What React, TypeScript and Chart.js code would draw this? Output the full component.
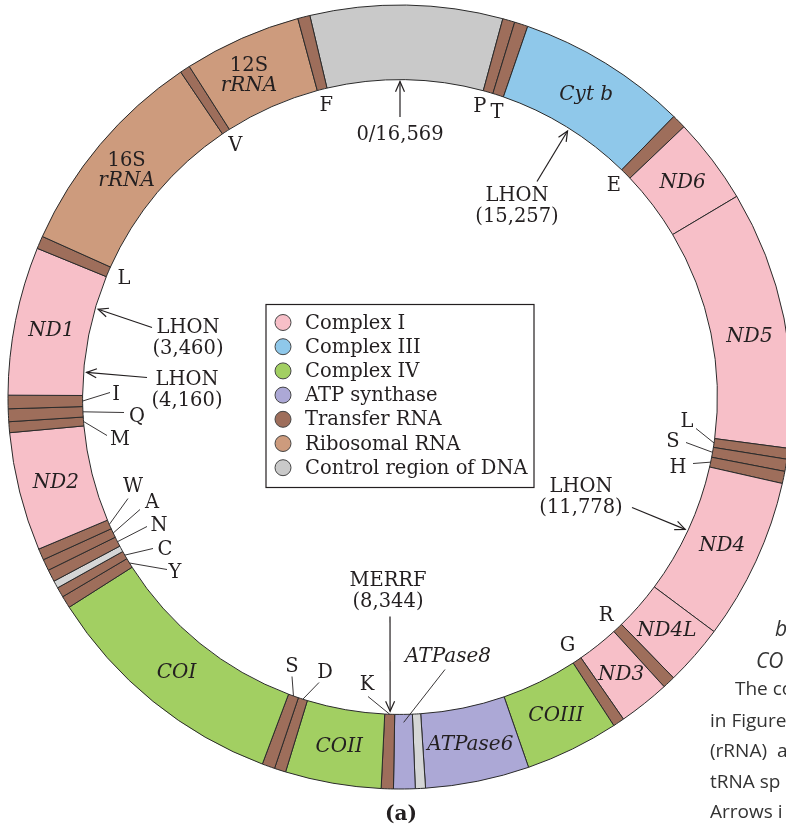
import React, { useEffect, useRef } from 'react';
import { Chart, registerables } from 'chart.js';

Chart.register(...registerables);

// ---------------- DATA ----------------
// Human mitochondrial genome map (16,569 bp), drawn clockwise from the
// start of the control region (segment lengths in bp, as read from the map).
const GENOME_LABEL = '0/16,569';
const ROTATION_DEG = -13.3; // where the control region begins (left of 0)

const segmentNames = [
  'Control region', 'P', 'T', 'Cyt b', 'E', 'ND6', 'ND5', 'L', 'S', 'H',
  'ND4', 'ND4L', 'R', 'ND3', 'G', 'COIII', 'ATPase6', 'overlap', 'ATPase8', 'K',
  'COII', 'D', 'S', 'COI', 'Y', 'C', 'OL', 'N', 'A', 'W',
  'ND2', 'M', 'Q', 'I', 'ND1', 'L', '16S rRNA', 'V', '12S rRNA', 'F',
];
const segmentLengths = [
  1312, 83, 92, 1164, 97, 589, 1763, 74, 83, 83,
  1105, 414, 87, 350, 78, 640, 709, 69, 147, 83,
  654, 78, 87, 1703, 83, 69, 51, 83, 78, 78,
  810, 74, 87, 92, 1013, 87, 1464, 69, 801, 83,
];
// 0 Complex I, 1 Complex III, 2 Complex IV, 3 ATP synthase, 4 tRNA, 5 rRNA, 6 control, 7 non-coding
const segmentGroups = [
  6, 4, 4, 1, 4, 0, 0, 4, 4, 4,
  0, 0, 4, 0, 4, 2, 3, 7, 3, 4,
  2, 4, 4, 2, 4, 4, 7, 4, 4, 4,
  0, 4, 4, 4, 0, 4, 5, 4, 5, 4,
];
const groupNames = [
  'Complex I', 'Complex III', 'Complex IV', 'ATP synthase',
  'Transfer RNA', 'Ribosomal RNA', 'Control region of DNA',
];
const groupColors = [
  '#f7bfc8', '#8fc8ea', '#a2cf62', '#aca8d6', '#9e6e5b', '#cd9b7d', '#c9c9c9', '#d5d6d6',
];

// gene names written inside the ring
const ringLabelSegs = [3, 5, 6, 10, 11, 13, 15, 16, 20, 23, 30, 34, 36, 38];
const ringLabelLines: [string, boolean][][] = [
  [['Cyt b', true]], [['ND6', true]], [['ND5', true]], [['ND4', true]], [['ND4L', true]],
  [['ND3', true]], [['COIII', true]], [['ATPase6', true]], [['COII', true]], [['COI', true]],
  [['ND2', true]], [['ND1', true]], [['16S', false], ['rRNA', true]], [['12S', false], ['rRNA', true]],
];
const ringLabelNudge = [0, 0, 1.8, 0, 0, 0, 0, 0, 0, 0, 0, -0.6, -0.5, -1.4];

// tRNA letters placed just inside the ring at the band centre
const letterSegs = [39, 37, 35, 1, 2, 4, 14, 12];
const letterTexts = ['F', 'V', 'L', 'P', 'T', 'E', 'G', 'R'];
const letterNudge = [0, 0, 0, -0.7, 0.8, 0, 0, 0];

// tRNA letters with leader lines: text offset from centre (px)
const calloutSegs = [33, 32, 31, 29, 28, 27, 25, 24, 22, 21, 19, 7, 8, 9];
const calloutTexts = ['I', 'Q', 'M', 'W', 'A', 'N', 'C', 'Y', 'S', 'D', 'K', 'L', 'S', 'H'];
const calloutTextDX = [-284, -263, -280, -267, -248, -241, -235, -225, -108, -75, -33, 287, 273, 278];
const calloutTextDY = [-2.5, 19.5, 42.5, 89.5, 105.5, 128.5, 152.5, 175.5, 269.5, 275.5, 287.5, 24.5, 44.5, 70.5];
const calloutEndDX = [-290, -276, -293, -272, -260, -253, -247, -233, -108, -81, -32, 296, 286, 293];
const calloutEndDY = [-4.5, 15.5, 38.5, 101.5, 112.5, 129.5, 151.5, 172.5, 279.5, 285.5, 299.5, 31.5, 45.5, 66.5];

// disease mutations
const mutationNames = ['LHON', 'LHON', 'LHON', 'LHON', 'MERRF'];
const mutationPositions = ['(3,460)', '(4,160)', '(11,778)', '(15,257)', '(8,344)'];
const mutationMapAngle = [286.2, 274.5, 114.9, 32.2, 181.8];
const mutationTextDX = [-212, -213, 181, 117, -12];
const mutationTextDY = [-59, -6.5, 100, -190.5, 194.5];
const mutationTailDX = [-248, -253, 232, 137, -10];
const mutationTailDY = [-69.5, -19.5, 110.5, -215.5, 219.5];

const SERIF = '"DejaVu Serif", "Liberation Serif", serif';
const SANS = '"Open Sans", "Noto Sans", sans-serif';
const INK = '#231f20';

// ---------------- PLUGIN ----------------
const mapAnnotations = {
  id: 'mapAnnotations',
  afterDraw(chart: any) {
    const ctx: CanvasRenderingContext2D = chart.ctx;
    const arcs: any[] = chart.getDatasetMeta(0).data;
    if (!arcs.length) return;
    const cx = arcs[0].x;
    const cy = arcs[0].y;
    const rIn = arcs[0].innerRadius;
    const rOut = arcs[0].outerRadius;
    const pt = (deg: number, r: number): [number, number] => {
      const t = (deg * Math.PI) / 180;
      return [cx + r * Math.sin(t), cy - r * Math.cos(t)];
    };
    const mid = (i: number) => ((arcs[i].startAngle + arcs[i].endAngle) / 2) * 180 / Math.PI + 90;
    const font = (italic: boolean, size = 19.5, bold = false) =>
      `${italic ? 'italic ' : ''}${bold ? 'bold ' : ''}${size}px ${SERIF}`;
    const line = (x1: number, y1: number, x2: number, y2: number, w = 1) => {
      ctx.beginPath();
      ctx.moveTo(x1, y1);
      ctx.lineTo(x2, y2);
      ctx.lineWidth = w;
      ctx.stroke();
    };
    const arrow = (x1: number, y1: number, x2: number, y2: number) => {
      line(x1, y1, x2, y2, 1.2);
      const a = Math.atan2(y2 - y1, x2 - x1);
      const L = 11;
      const s = 0.42;
      ctx.beginPath();
      ctx.moveTo(x2 - L * Math.cos(a - s), y2 - L * Math.sin(a - s));
      ctx.lineTo(x2, y2);
      ctx.lineTo(x2 - L * Math.cos(a + s), y2 - L * Math.sin(a + s));
      ctx.stroke();
    };

    ctx.save();
    ctx.fillStyle = INK;
    ctx.strokeStyle = INK;
    ctx.textAlign = 'center';
    ctx.textBaseline = 'middle';

    // gene names inside the ring
    const rMid = (rIn + rOut) / 2;
    ringLabelSegs.forEach((seg, k) => {
      const [x, y] = pt(mid(seg) + ringLabelNudge[k], rMid);
      const lines = ringLabelLines[k];
      lines.forEach(([txt, it], j) => {
        ctx.font = font(it, it ? 20 : 19.5);
        ctx.fillText(txt, x, y + (j - (lines.length - 1) / 2) * 20);
      });
    });

    // tRNA letters
    ctx.font = font(false);
    letterSegs.forEach((seg, k) => {
      const [x, y] = pt(mid(seg) + letterNudge[k], rIn - 17);
      ctx.fillText(letterTexts[k], x, y);
    });

    // tRNA letters with leader lines
    calloutSegs.forEach((seg, k) => {
      const [x0, y0] = pt(mid(seg), rIn);
      line(x0, y0, cx + calloutEndDX[k], cy + calloutEndDY[k], 0.9);
      ctx.fillText(calloutTexts[k], cx + calloutTextDX[k], cy + calloutTextDY[k]);
    });

    // ATPase8 callout
    {
      const [x0, y0] = pt(mid(18), rIn + 8);
      ctx.font = font(true, 20);
      ctx.fillText('ATPase8', cx + 48, cy + 259.5);
      line(cx + 45, cy + 272.5, x0, y0, 0.9);
    }

    // origin marker
    ctx.font = font(false);
    ctx.fillText(GENOME_LABEL, cx, cy - 262.5);
    {
      const [hx, hy] = pt(0, rIn - 2);
      arrow(cx, cy - 280, hx, hy);
    }

    // mutations
    mutationNames.forEach((nm, k) => {
      const tx = cx + mutationTextDX[k];
      const ty = cy + mutationTextDY[k];
      ctx.fillText(nm, tx, ty - 10.5);
      ctx.fillText(mutationPositions[k], tx, ty + 10.5);
      const [hx, hy] = pt(mutationMapAngle[k], rIn - 3);
      arrow(cx + mutationTailDX[k], cy + mutationTailDY[k], hx, hy);
    });

    // legend box
    const lx = cx - 134;
    const ly = cy - 92.5;
    ctx.lineWidth = 1.2;
    ctx.strokeRect(lx, ly, 268, 183);
    ctx.textAlign = 'left';
    groupNames.forEach((g, k) => {
      const yy = ly + 18 + k * 24.2;
      ctx.beginPath();
      ctx.arc(lx + 17, yy, 8, 0, Math.PI * 2);
      ctx.fillStyle = groupColors[k];
      ctx.fill();
      ctx.lineWidth = 1;
      ctx.strokeStyle = '#444';
      ctx.stroke();
      ctx.fillStyle = INK;
      ctx.font = font(false);
      ctx.fillText(g, lx + 39, yy + 1);
    });

    // panel label
    ctx.textAlign = 'center';
    ctx.font = font(false, 20, true);
    ctx.fillText('(a)', cx + 1, cy + 417.5);

    // neighbouring page text (cropped at the right edge)
    ctx.textAlign = 'left';
    ctx.fillStyle = '#333';
    ctx.font = `italic 21px ${SANS}`;
    ctx.fillText('b', 775, 630);
    ctx.fillText('CO', 756, 662);
    ctx.font = `19px ${SANS}`;
    ctx.fillText('The co', 735, 690);
    ctx.fillText('in Figure', 710, 722);
    ctx.fillText('(rRNA)  a', 710, 752);
    ctx.fillText('tRNA sp', 710, 783);
    ctx.fillText('Arrows i', 710, 813);
    ctx.restore();
  },
};

// ---------------- COMPONENT ----------------
export default function App() {
  const ref = useRef<HTMLCanvasElement>(null);
  useEffect(() => {
    const canvas = ref.current;
    if (!canvas) return;
    const chart = new Chart(canvas, {
      type: 'doughnut',
      data: {
        labels: segmentNames,
        datasets: [
          {
            data: segmentLengths,
            backgroundColor: segmentGroups.map((g) => groupColors[g]),
            borderColor: '#2a2a2a',
            borderWidth: 1,
            hoverOffset: 0,
          } as any,
        ],
      },
      options: {
        responsive: false,
        animation: false,
        rotation: ROTATION_DEG,
        radius: 392,
        cutout: 317,
        events: [],
        layout: { padding: { left: 8, right: 8, top: 5, bottom: 42 } },
        plugins: { legend: { display: false }, tooltip: { enabled: false } },
      } as any,
      plugins: [mapAnnotations],
    });
    return () => chart.destroy();
  }, []);
  return (
    <div
      style={{
        position: 'absolute',
        left: 0,
        top: 0,
        width: 786,
        height: 831,
        overflow: 'hidden',
        background: '#ffffff',
      }}
    >
      <canvas ref={ref} width={800} height={831} style={{ display: 'block', width: 800, height: 831 }} />
    </div>
  );
}
